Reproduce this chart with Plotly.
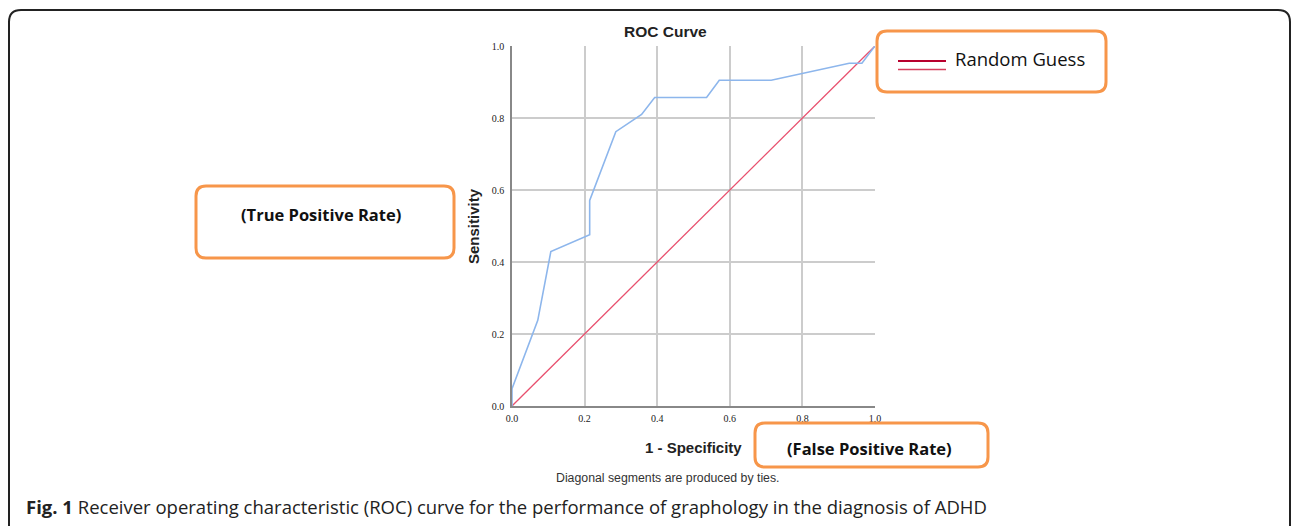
import plotly.graph_objects as go

# Data
fpr = [0.0, 0.0, 0.071, 0.107, 0.214, 0.214, 0.286, 0.357, 0.393, 0.536, 0.571, 0.714, 0.929, 0.964, 1.0]
tpr = [0.0, 0.048, 0.238, 0.429, 0.476, 0.571, 0.762, 0.810, 0.857, 0.857, 0.905, 0.905, 0.952, 0.952, 1.0]
diag_x = [0.0, 1.0]
diag_y = [0.0, 1.0]
tick_vals = [0.0, 0.2, 0.4, 0.6, 0.8, 1.0]
tick_text = ["0.0", "0.2", "0.4", "0.6", "0.8", "1.0"]

W, H = 1292, 526
L, R, T, B = 512, 417, 46, 120
PW = W - L - R
PH = H - T - B

SANS = "Liberation Sans, Arial, sans-serif"
OPEN = "Open Sans, sans-serif"


def px(x):
    return (x - L) / PW


def py(y):
    return (H - B - y) / PH


def rrect(x0, y0, x1, y1, r):
    pts = [
        f"M {px(x0 + r)},{py(y0)}",
        f"L {px(x1 - r)},{py(y0)}",
        f"Q {px(x1)},{py(y0)} {px(x1)},{py(y0 + r)}",
        f"L {px(x1)},{py(y1 - r)}",
        f"Q {px(x1)},{py(y1)} {px(x1 - r)},{py(y1)}",
        f"L {px(x0 + r)},{py(y1)}",
        f"Q {px(x0)},{py(y1)} {px(x0)},{py(y1 - r)}",
        f"L {px(x0)},{py(y0 + r)}",
        f"Q {px(x0)},{py(y0)} {px(x0 + r)},{py(y0)}",
        "Z",
    ]
    return " ".join(pts)


fig = go.Figure()
fig.add_trace(go.Scatter(x=diag_x, y=diag_y, mode="lines",
                         line=dict(color="#e8506e", width=1.3), showlegend=False, hoverinfo="skip"))
fig.add_trace(go.Scatter(x=fpr, y=tpr, mode="lines",
                         line=dict(color="#8db6ec", width=1.6), showlegend=False))

orange = "#f7964a"
shapes = []
frame = (f"M {px(9)},{py(540)} L {px(9)},{py(22)} Q {px(9)},{py(10)} {px(21)},{py(10)} "
         f"L {px(1278)},{py(10)} Q {px(1290)},{py(10)} {px(1290)},{py(22)} L {px(1290)},{py(540)}")
shapes.append(dict(type="path", xref="paper", yref="paper", path=frame,
                   line=dict(color="#222222", width=2)))
for (x0, y0, x1, y1) in [(196, 186, 454, 258), (877, 31, 1106, 92), (755, 423, 988, 467)]:
    shapes.append(dict(type="path", xref="paper", yref="paper", path=rrect(x0, y0, x1, y1, 10),
                       line=dict(color=orange, width=3)))
shapes.append(dict(type="line", xref="paper", yref="paper", x0=px(898), x1=px(946), y0=py(61), y1=py(61),
                   line=dict(color="#b8002e", width=2)))
shapes.append(dict(type="line", xref="paper", yref="paper", x0=px(898), x1=px(946), y0=py(69.5), y1=py(69.5),
                   line=dict(color="#d6405e", width=1.5)))


def note(text, x, y, family, size, color="#222", xanchor="center", angle=0):
    return dict(text=text, x=px(x), y=py(y), xref="paper", yref="paper", showarrow=False,
                xanchor=xanchor, yanchor="middle", textangle=angle,
                font=dict(family=family, size=size, color=color))


ann = [
    note("<b>ROC Curve</b>", 665, 32, SANS, 15.5),
    note("Random Guess", 953, 59, OPEN, 18.5, "#111", xanchor="left"),
    note("<b>(True Positive Rate)</b>", 321, 214, OPEN, 16.5, "#111"),
    note("<b>(False Positive Rate)</b>", 869, 448, OPEN, 16.5, "#111"),
    note("<b>1 - Specificity</b>", 693, 447, SANS, 15),
    note("<b>Sensitivity</b>", 473, 226, SANS, 15, angle=-90),
    note("Diagonal segments are produced by ties.", 668, 478, SANS, 12.3, "#333"),
    note("<b>Fig. 1</b> Receiver operating characteristic (ROC) curve for the performance of graphology in the diagnosis of ADHD",
         24, 507, OPEN, 18.5, "#222", xanchor="left"),
]

axis_common = dict(range=[0, 1], tickvals=tick_vals, ticktext=tick_text, showgrid=True,
                   gridcolor="#cccccc", gridwidth=1.5, zeroline=False, showline=True,
                   linecolor="#888888", linewidth=1.5, ticks="", fixedrange=True,
                   tickfont=dict(family="Liberation Serif, serif", size=10, color="#222"))
fig.update_layout(
    width=W, height=H, margin=dict(l=L, r=R, t=T, b=B, pad=0),
    paper_bgcolor="white", plot_bgcolor="white",
    xaxis=dict(**axis_common), yaxis=dict(**axis_common),
    shapes=shapes, annotations=ann, showlegend=False,
)
fig.update_xaxes(ticklabelstandoff=2)
fig.update_yaxes(ticklabelstandoff=4)
fig.write_html("out.html", config={"displayModeBar": False},
               post_script="document.body.style.margin='0';document.body.style.padding='0';")
